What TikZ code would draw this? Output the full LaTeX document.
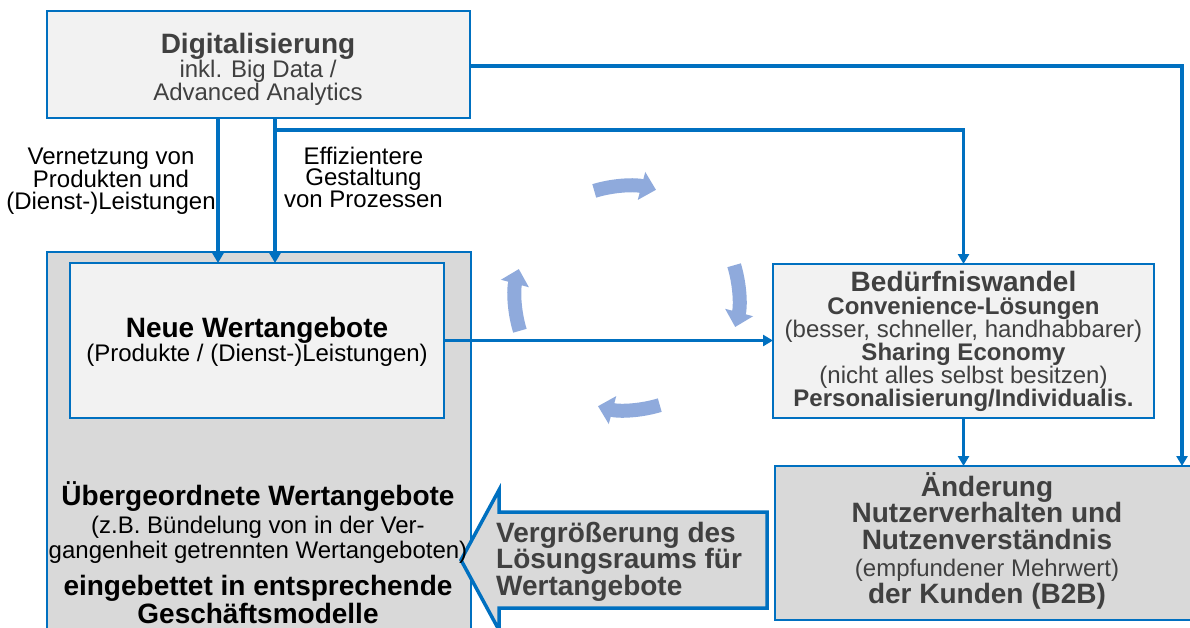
\documentclass[tikz,border=0pt]{standalone}
\usepackage{fontspec}
\setmainfont{Liberation Sans}
\usetikzlibrary{arrows.meta,calc}
\definecolor{linkblue}{HTML}{0070C0}
\definecolor{cyclblue}{HTML}{8FAADC}
\definecolor{paleg}{HTML}{F2F2F2}
\definecolor{midg}{HTML}{D9D9D9}
\definecolor{darktxt}{HTML}{404040}
% zero-width strut fixing the top of the first line 25pt above its baseline
\newcommand{\firstln}{\rule{0pt}{25pt}}
\newcommand{\bigb}{\fontsize{28}{23}\bfseries}
\begin{document}
\begin{tikzpicture}[x=1pt,y=-1pt,
  panel/.style={draw=linkblue,line width=2pt,inner sep=0pt,outer sep=0pt},
  txt/.style={inner sep=0pt,align=center,anchor=north,font=\fontsize{24}{23}\selectfont},
  conn/.style={draw=linkblue,line width=3.5pt,-{Triangle[width=11pt,length=10pt]}},
  turnarrow/.style={draw=cyclblue,line width=14pt,-{Triangle[width=28pt,length=15pt]}}
]
\useasboundingbox (0,0) rectangle (1190,627);
\clip (0,0) rectangle (1190,627);

% boxes
\node[panel,fill=paleg,minimum width=423pt,minimum height=107pt] (dig) at (258.5,64.5) {};
\node[panel,fill=midg,minimum width=424pt,minimum height=388pt] (ueber) at (259,446) {};
\node[panel,fill=paleg,minimum width=374pt,minimum height=155pt] (neue) at (257,340.5) {};
\node[panel,fill=paleg,minimum width=381pt,minimum height=154pt] (bed) at (963.5,341) {};
\node[panel,fill=midg,minimum width=424pt,minimum height=154pt] (aend) at (987,543) {};

% wide arrow pointing back to the value propositions
\draw[draw=linkblue,line width=3.5pt,fill=midg,line join=miter]
  (461,560) -- (499,490) -- (499,512) -- (767,512) -- (767,608)
  -- (499,608) -- (499,630) -- cycle;

% texts
\node[txt,text=darktxt] (digtext) at (258,28)
  {\firstln{\bigb Digitalisierung}\\inkl. Big Data /\\Advanced Analytics};
\node[txt,font=\fontsize{24}{21.5}\selectfont] (vtext) at (111,139)
  {\firstln Vernetzung von\\Produkten und\\(Dienst-)Leistungen};
\node[txt,font=\fontsize{24}{21.5}\selectfont] (etext) at (363.5,139)
  {\firstln Effizientere\\Gestaltung\\von Prozessen};
\node[txt,font=\fontsize{24}{24}\selectfont] (neuetext) at (257,312)
  {\firstln{\bigb Neue Wertangebote}\\(Produkte / (Dienst-)Leistungen)};
\node[txt,font=\fontsize{24}{27}\selectfont] (uebertext) at (258,480)
  {\firstln{\bigb Übergeordnete Wertangebote}\\[1pt]
   (z.B. Bündelung von in der Ver-\\[-2pt]
   gangenheit getrennten Wertangeboten)\\[10pt]
   {\bigb eingebettet in entsprechende}\\[1pt]
   {\bigb Geschäftsmodelle}};
\node[txt,text=darktxt] (bedtext) at (963.5,266)
  {\firstln{\bigb Bedürfniswandel}\\
   {\bfseries Convenience-Lösungen}\\
   (besser, schneller, handhabbarer)\\
   {\bfseries Sharing Economy}\\
   (nicht alles selbst besitzen)\\
   {\bfseries Personalisierung/Individualis.}};
\node[txt,text=darktxt,font=\fontsize{24}{26.75}\selectfont] (aendtext) at (987,471)
  {\firstln{\bigb Änderung}\\{\bigb Nutzerverhalten und}\\{\bigb Nutzenverständnis}\\
   (empfundener Mehrwert)\\{\bigb der Kunden (B2B)}};
\node[txt,text=darktxt,anchor=north west,align=left,font=\fontsize{28}{26.5}\bfseries] (vergtext) at (496,517)
  {\firstln Vergrößerung des\\Lösungsraums für\\Wertangebote};

% connectors
\coordinate (xa) at (218,0);
\coordinate (xb) at (275,0);
\coordinate (split) at (275,130);
\coordinate (xr) at (1182,66);
\draw[conn] (dig.south -| xa) -- (neue.north -| xa);
\draw[conn] (dig.south -| xb) -- (neue.north -| xb);
\draw[conn] (split) -| (bed.north);
\draw[conn] (dig.east |- xr) -| (aend.north -| xr);
\draw[conn] (neue.east) -- (neue.east -| bed.west);
\draw[conn] (bed.south) -- (bed.south |- aend.north);

% clockwise cycle of four curved arrows
\coordinate (cyc) at (627,298);
\draw[turnarrow] ($(cyc)+(-107:112)$) arc[start angle=-107,end angle=-75,radius=112];
\draw[turnarrow] ($(cyc)+(-17:112)$) arc[start angle=-17,end angle=15,radius=112];
\draw[turnarrow] ($(cyc)+(73:112)$) arc[start angle=73,end angle=105,radius=112];
\draw[turnarrow] ($(cyc)+(163:112)$) arc[start angle=163,end angle=195,radius=112];
\end{tikzpicture}
\end{document}
